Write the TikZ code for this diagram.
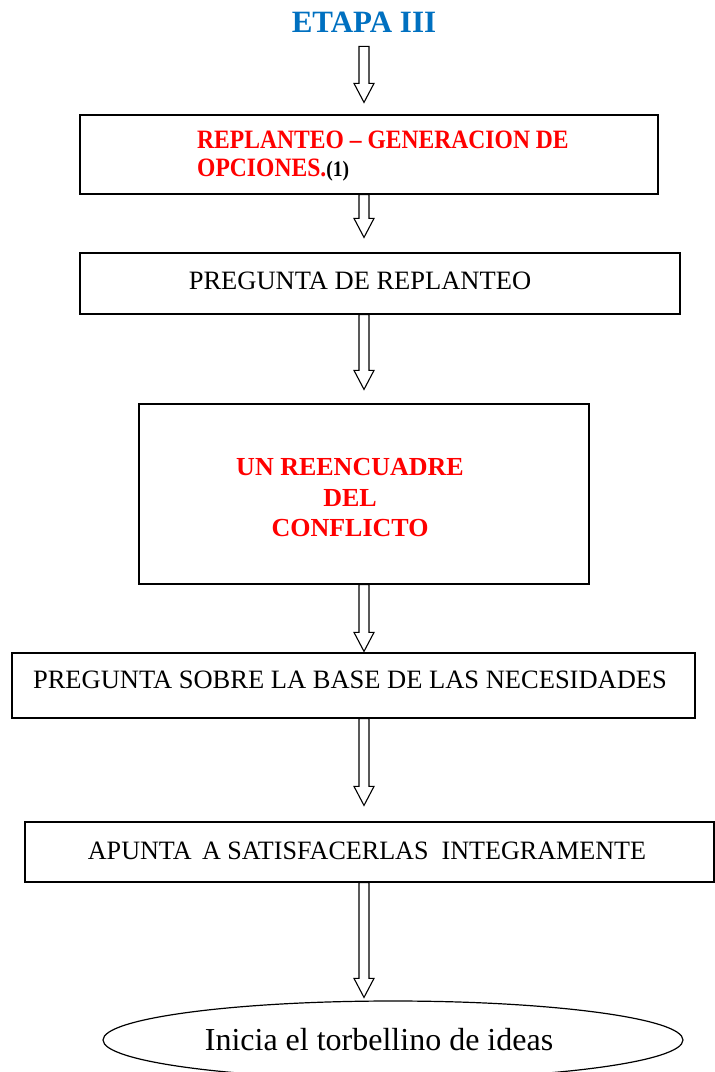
\documentclass[tikz,border=0pt]{standalone}
\usepackage{fontspec}
\setmainfont{Liberation Serif}
\usetikzlibrary{calc,shapes.geometric}
\definecolor{etapablue}{HTML}{0070C0}
\definecolor{rojo}{HTML}{FF0000}
\newcommand{\blockarrow}[4]{% #1 from anchor, #2 start offset, #3 to anchor, #4 gap before target
  \coordinate (s0) at (ax |- #1);
  \coordinate (s) at ($(s0)+(0,#2)$);
  \coordinate (e0) at (ax |- #3);
  \coordinate (e) at ($(e0)+(0,-#4)$);
  \draw[barrowstyle] ($(s)+(-5,0)$) -- ($(e)+(-5,-19)$) -- ($(e)+(-10,-19)$) -- (e)
     -- ($(e)+(10,-19)$) -- ($(e)+(5,-19)$) -- ($(s)+(5,0)$) -- cycle;}
\begin{document}
\begin{tikzpicture}[x=1pt,y=-1pt,
  box/.style={draw, line width=1.2pt, rectangle, inner sep=0pt},
  barrowstyle/.style={draw, line width=1.1pt, fill=white, line join=miter},
  plain/.style={inner sep=0pt, font=\fontsize{26.5}{30}\selectfont},
  redbold/.style={inner sep=0pt, text=rojo, font=\fontsize{26}{30.5}\selectfont\bfseries},
]
\useasboundingbox (0,0) rectangle (715,1072);
\clip (0,0) rectangle (715,1072);
\coordinate (ax) at (364,0);

\node[inner sep=0pt, text=etapablue, font=\fontsize{31}{31}\selectfont\bfseries] (title) at (364,22) {ETAPA III};

\node[box, minimum width=578pt, minimum height=79pt] (b1) at (369,154.5) {};
\node[inner sep=0pt, anchor=west, text=rojo, font=\fontsize{26.5}{29}\selectfont\bfseries] (t1) at (197,157)
  {\scalebox{0.89}[1]{\begin{tabular}{@{}l@{}}REPLANTEO – GENERACION DE\\[-1pt]OPCIONES.{\color{black}\fontsize{22}{22}\selectfont(1)}\end{tabular}}};

\node[box, minimum width=600pt, minimum height=61pt] (b2) at (380,283.5) {};
\node[plain] (t2) at (360,281) {PREGUNTA DE REPLANTEO};

\node[box, minimum width=450pt, minimum height=180pt] (b3) at (364,494) {};
\node[redbold, align=center] (t3) at (350,498) {UN REENCUADRE\\DEL\\CONFLICTO};

\node[box, minimum width=683pt, minimum height=65pt] (b4) at (353.5,685.5) {};
\node[plain] (t4) at (350,680) {PREGUNTA SOBRE LA BASE DE LAS NECESIDADES};

\node[box, minimum width=689pt, minimum height=60pt] (b5) at (369.5,852) {};
\node[plain] (t5) at (367,851) {\scalebox{0.985}[1]{APUNTA\hspace{0.15em} A SATISFACERLAS \ INTEGRAMENTE}};

\node[draw, line width=1.2pt, ellipse, inner sep=0pt, minimum width=580pt, minimum height=78pt] (el) at (393,1040) {};
\node[inner sep=0pt, font=\fontsize{32}{34}\selectfont] (t6) at (379,1040) {Inicia el torbellino de ideas};

\blockarrow{title.south}{14}{b1.north}{12}
\blockarrow{b1.south}{0}{b2.north}{15}
\blockarrow{b2.south}{0}{b3.north}{14}
\blockarrow{b3.south}{0}{b4.north}{1}
\blockarrow{b4.south}{0}{b5.north}{16}
\blockarrow{b5.south}{0}{el.north}{3}
\end{tikzpicture}
\end{document}
